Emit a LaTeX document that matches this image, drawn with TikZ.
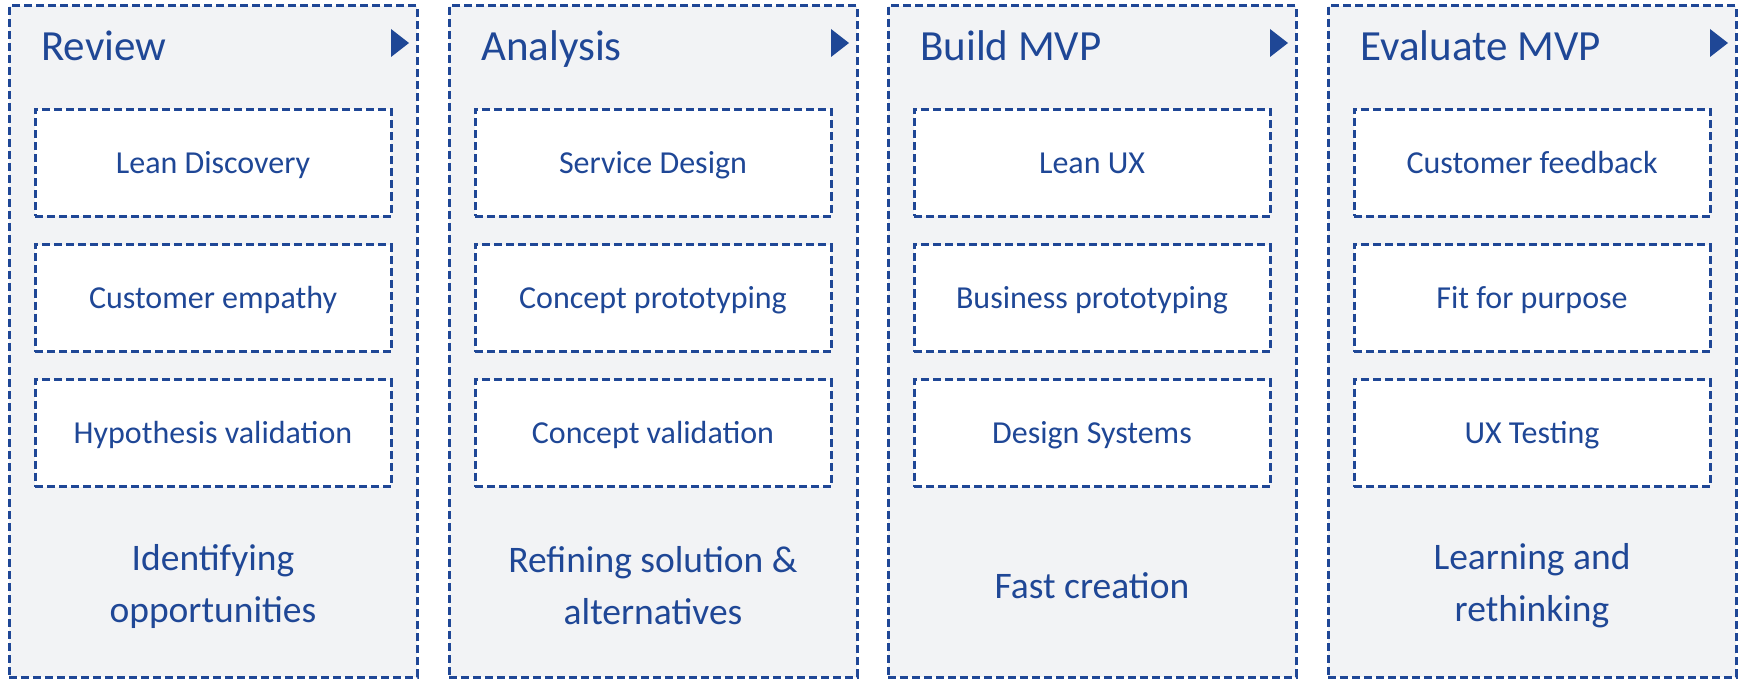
\documentclass[tikz,border=0pt]{standalone}
\usepackage{fontspec}
\setmainfont{Carlito}
\usepackage{xcolor}
\definecolor{mvpblue}{RGB}{31,71,150}
\definecolor{colgray}{RGB}{242,243,245}
\tikzset{
  dashline/.style={draw=mvpblue, line width=3pt, dash pattern=on 8pt off 4pt},
  column/.style={dashline, fill=colgray, minimum width=408pt, minimum height=671pt, inner sep=0pt},
  task/.style={dashline, fill=white, minimum width=356pt, minimum height=107pt, inner sep=0pt,
    text height=21pt, text depth=0pt, text=mvpblue, font=\fontsize{32}{38}\selectfont},
  phase/.style={anchor=base west, inner sep=0pt, text=mvpblue, font=\fontsize{43}{52}\selectfont},
  goal/.style={align=center, inner sep=0pt, text=mvpblue, font=\fontsize{37.5}{52}\selectfont}
}
\begin{document}
\begin{tikzpicture}[x=1pt,y=-1pt]
            \useasboundingbox (0,0) rectangle (1745,679);
            % Columns
            \node[column] (C1) at (213,341.5) {};
            \node[column] (C2) at (653,341.5) {};
            \node[column] (C3) at (1092,341.5) {};
            \node[column] (C4) at (1532,341.5) {};
            % Headings
            \node[phase] (H1) at (41,61) {Review};
            \node[phase] (H2) at (481,61) {Analysis};
            \node[phase] (H3) at (920,61) {Build MVP};
            \node[phase] (H4) at (1360,61) {Evaluate MVP};
            % Small arrow heads next to the headings
            \foreach \c in {C1,C2,C3,C4}
              \fill[mvpblue] ([xshift=-27.5pt,yshift=-24.5pt]\c.north east) -- ++(18,14) -- ++(-18,14) -- cycle;
            % Activities
            \node[task] (R1) at (213,163) {Lean Discovery};
            \node[task] (R2) at (213,298) {Customer empathy};
            \node[task] (R3) at (213,433) {Hypothesis validation};
            \node[task] (A1) at (653,163) {Service Design};
            \node[task] (A2) at (653,298) {Concept prototyping};
            \node[task] (A3) at (653,433) {Concept validation};
            \node[task] (B1) at (1092,163) {Lean UX};
            \node[task] (B2) at (1092,298) {Business prototyping};
            \node[task] (B3) at (1092,433) {Design Systems};
            \node[task] (E1) at (1532,163) {Customer feedback};
            \node[task] (E2) at (1532,298) {Fit for purpose};
            \node[task] (E3) at (1532,433) {UX Testing};
            % Outcomes
            \node[goal] (G1) at (213,586) {Identifying\\opportunities};
            \node[goal] (G2) at (653,586) {Refining solution \&\\alternatives};
            \node[goal] (G3) at (1092,586) {Fast creation};
            \node[goal] (G4) at (1532,586) {Learning and\\rethinking};
        \end{tikzpicture}
\end{document}
